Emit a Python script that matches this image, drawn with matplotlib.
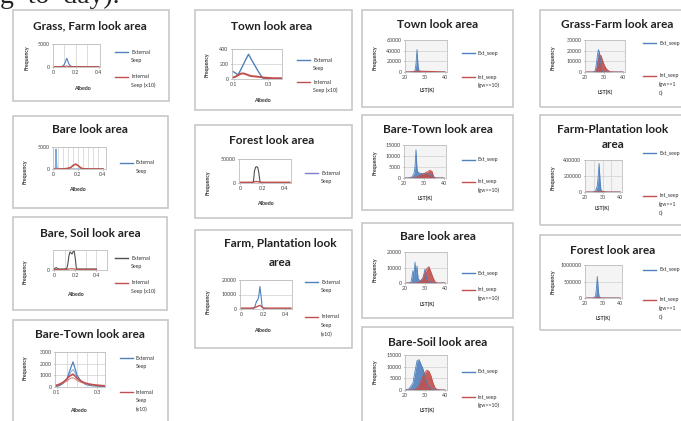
import matplotlib.pyplot as plt
from matplotlib.patches import Rectangle
from matplotlib.lines import Line2D

plt.rcParams['font.family'] = ['Lato', 'DejaVu Sans']

# ---------------- data ----------------
# albedo charts: External Seep / Internal Seep (x10)
gf_x = [0.0, 0.04, 0.08, 0.10, 0.12, 0.14, 0.16, 0.20, 0.30, 0.40]
gf_ext = [0, 0, 100, 600, 1900, 600, 100, 0, 0, 0]
gf_int = [80, 80, 90, 120, 200, 120, 90, 80, 80, 80]

bare_x = [0.0, 0.01, 0.02, 0.024, 0.03, 0.05, 0.10, 0.14, 0.16, 0.18, 0.20, 0.22, 0.24, 0.30, 0.40]
bare_ext = [0, 0, 300, 4500, 300, 0, 0, 0, 0, 0, 0, 0, 0, 0, 0]
bare_int = [0, 0, 0, 0, 0, 0, 50, 300, 800, 1100, 800, 300, 50, 0, 0]

bs_x = [0.0, 0.02, 0.04, 0.08, 0.12, 0.13, 0.14, 0.15, 0.16, 0.17, 0.18, 0.19, 0.20, 0.21, 0.22, 0.26, 0.30, 0.40]
bs_ext = [5, 12, 5, 5, 6, 30, 70, 90, 85, 80, 92, 95, 60, 10, 5, 5, 5, 5]
bs_int = [3, 3, 3, 3, 3, 4, 5, 6, 6, 6, 6, 5, 4, 3, 3, 3, 3, 3]

btw_x = [0.09, 0.11, 0.13, 0.15, 0.16, 0.17, 0.18, 0.19, 0.20, 0.22, 0.24, 0.26, 0.28, 0.30, 0.32, 0.34]
btw_ext = [50, 100, 300, 700, 1200, 1700, 2150, 1600, 1000, 500, 250, 150, 100, 80, 60, 50]
btw_ext2 = [80, 150, 350, 650, 1000, 1300, 1500, 1250, 900, 500, 300, 200, 150, 120, 100, 80]
btw_int = [100, 200, 400, 700, 900, 1000, 1100, 950, 750, 500, 350, 250, 200, 150, 120, 100]
btw_int2 = [150, 250, 350, 500, 650, 750, 800, 700, 550, 400, 300, 220, 180, 150, 130, 120]

town_x = [0.095, 0.11, 0.125, 0.14, 0.155, 0.17, 0.186, 0.20, 0.22, 0.24, 0.26, 0.27, 0.30, 0.33, 0.36, 0.38]
town_ext = [100, 80, 55, 120, 190, 260, 330, 270, 190, 110, 40, 10, 8, 5, 5, 5]
town_int = [20, 30, 50, 70, 75, 65, 50, 40, 35, 30, 25, 20, 15, 10, 10, 10]

fo_x = [0.0, 0.04, 0.08, 0.10, 0.12, 0.13, 0.14, 0.15, 0.16, 0.17, 0.18, 0.20, 0.24, 0.30, 0.40, 0.45]
fo_ext = [0, 0, 0, 200, 2000, 25000, 33000, 34000, 32000, 20000, 2000, 200, 0, 0, 0, 0]
fo_int = [1500, 1500, 1500, 1600, 2000, 2500, 3000, 3000, 2800, 2300, 1800, 1500, 1500, 1500, 1500, 1500]

fp_x = [0.0, 0.04, 0.08, 0.10, 0.12, 0.13, 0.14, 0.15, 0.16, 0.17, 0.18, 0.19, 0.20, 0.22, 0.26, 0.30, 0.40, 0.45]
fp_ext = [0, 0, 0, 100, 800, 3000, 5500, 6000, 9000, 15500, 9000, 2000, 500, 100, 0, 0, 0, 0]
fp_int = [600, 600, 600, 700, 900, 1200, 1500, 1800, 2200, 2500, 2000, 1200, 800, 600, 600, 600, 600, 600]

# LST charts: Ext_seep / Int_seep (gw>=10)
tl_x = [20, 22, 24, 25, 25.5, 26, 26.5, 27, 28, 30, 32, 34, 36, 38, 40]
tl_ext = [0, 0, 200, 2000, 15000, 42000, 12000, 2000, 300, 100, 0, 0, 0, 0, 0]
tl_int = [0, 0, 300, 800, 1200, 1500, 1500, 1400, 1300, 1200, 1000, 800, 500, 200, 0]

btl_x = [20, 22, 24, 25, 25.5, 26, 26.5, 27, 28, 29, 30, 31, 32, 33, 34, 35, 36, 38, 40]
btl_ext = [0, 0, 500, 2000, 5000, 12800, 4000, 2500, 2200, 2000, 2000, 2000, 1800, 1500, 1200, 500, 0, 0, 0]
btl_int = [0, 0, 0, 100, 200, 300, 500, 800, 1200, 1600, 2000, 2500, 3000, 3500, 3000, 0, 0, 0, 0]

bl_x = [20, 22, 23, 24, 24.5, 25, 25.5, 26, 26.5, 27, 28, 29, 29.5, 30, 30.5, 31, 32, 33, 34, 35, 36, 38, 40]
bl_ext = [0, 0, 500, 8000, 4000, 13500, 5000, 11000, 3000, 2000, 1500, 3000, 6000, 9000, 5000, 2000, 800, 300, 100, 0, 0, 0, 0]
bl_int = [0, 0, 0, 0, 0, 0, 0, 100, 200, 500, 1500, 3500, 5000, 6500, 8000, 9500, 10500, 7000, 3500, 800, 0, 0, 0]

bsl_x = [20, 22, 24, 25, 26, 27, 28, 29, 30, 31, 32, 33, 34, 35, 36, 38, 40]
bsl_ext = [0, 500, 3000, 8000, 12500, 13000, 11000, 9000, 6000, 3000, 1500, 800, 300, 0, 0, 0, 0]
bsl_int = [0, 0, 0, 200, 800, 2000, 4000, 6000, 7500, 8500, 8000, 6000, 3000, 1000, 200, 0, 0]

gfl_x = [20, 24, 25, 25.5, 26, 26.5, 27, 27.5, 28, 28.5, 29, 30, 31, 32, 33, 34, 36, 40]
gfl_ext = [0, 0, 300, 2000, 8000, 15000, 21000, 19000, 12000, 5000, 800, 100, 0, 0, 0, 0, 0, 0]
gfl_int = [0, 0, 0, 200, 1500, 5000, 10000, 14000, 16000, 15000, 12000, 7000, 3500, 1500, 500, 100, 0, 0]

fpl_x = [20, 24, 25, 26, 27, 27.5, 28, 28.5, 29, 30, 32, 36, 40]
fpl_ext = [0, 0, 2000, 15000, 80000, 200000, 357000, 150000, 30000, 5000, 0, 0, 0]
fpl_int = [0, 0, 500, 2000, 5000, 8000, 10000, 9000, 7000, 4000, 1500, 0, 0]

frl_x = [20, 24, 25, 26, 26.5, 27, 27.5, 28, 29, 30, 34, 40]
frl_ext = [0, 0, 5000, 60000, 300000, 650000, 250000, 40000, 5000, 0, 0, 0]
frl_int = [0, 0, 1000, 5000, 10000, 15000, 12000, 8000, 3000, 1000, 0, 0]

# ---------------- drawing ----------------
W, H = 681, 421
BLUE = '#4F81BD'
RED = '#C0504D'
DARK = '#505050'
FS = 3.8

fig = plt.figure(figsize=(W / 100, H / 100), dpi=100)


def txt(x, y, s, **kw):
    kw.setdefault('size', FS)
    kw.setdefault('ha', 'center')
    kw.setdefault('va', 'center')
    kw.setdefault('color', '#333333')
    fig.text(x / W, 1 - y / H, s, **kw)


def box(x0, y0, x1, y1):
    fig.add_artist(Rectangle((x0 / W, 1 - y1 / H), (x1 - x0) / W, (y1 - y0) / H,
                             transform=fig.transFigure, fill=False, ec='#c8c8c8', lw=1.2))


def chart(rect, xs, series, xlim, ylim, yticks, xticks, fill=False, vgrid=(), face='white'):
    x0, y0, x1, y1 = rect
    ax = fig.add_axes([x0 / W, 1 - y1 / H, (x1 - x0) / W, (y1 - y0) / H])
    ax.set_facecolor(face)
    for vals, color, lw in series:
        if fill:
            ax.fill_between(xs, vals, color=color, lw=0, alpha=0.9)
        ax.plot(xs, vals, color=color, lw=lw)
    ax.set_xlim(*xlim)
    ax.set_ylim(*ylim)
    ax.set_yticks(yticks)
    ax.set_yticklabels([str(t) for t in yticks])
    ax.set_xticks(xticks)
    ax.set_xticklabels([f'{t:g}' for t in xticks])
    ax.tick_params(labelsize=FS, length=1, width=0.4, pad=1.5, colors='#444444')
    ax.grid(axis='y', color='#d0d0d0', lw=0.5)
    for v in vgrid:
        ax.axvline(v, color='#d0d0d0', lw=0.5, zorder=0)
    ax.set_axisbelow(True)
    for s in ax.spines.values():
        s.set_color('#bfbfbf')
        s.set_linewidth(0.6)
    return ax


def legend(x0, y, color, lines):
    fig.add_artist(Line2D([x0 / W, (x0 + 13) / W], [1 - y / H] * 2, color=color, lw=1.0))
    for i, s in enumerate(lines):
        txt(x0 + 16, y + i * 8.5, s, ha='left')


def title(x, y, s):
    txt(x, y, s, size=8.5, weight='bold', color='#222222')


def axis_labels(ylab_x, ylab_y, xlab_x, xlab_y, xlab):
    txt(ylab_x, ylab_y, 'Frequency', rotation=90, weight='bold')
    txt(xlab_x, xlab_y, xlab, weight='bold')


EXT = ['External', 'Seep']
INT = ['Internal', 'Seep (x10)']
INT3 = ['Internal', 'Seep', '(x10)']
EXTL = ['Ext_seep']
INTL = ['Int_seep', '(gw>=10)']
INTL3 = ['Int_seep', '(gw>=1', '0)']

# bottom of the page line above the figure (cut off in the reference too)
fig.text(0.0, 1 - 3 / H, 'g  to  day).', family=['Liberation Serif'], size=20, color='#222222',
         va='baseline', ha='left')

# ---- column 1 ----
box(13, 10, 169, 101)
title(90, 26, 'Grass, Farm look area')
chart((53, 44, 100, 67), gf_x, [(gf_ext, BLUE, 0.8), (gf_int, RED, 0.8)],
      (0, 0.41), (0, 5000), [0, 5000], [0, 0.2, 0.4], vgrid=[0.1, 0.2, 0.3])
axis_labels(27, 58, 82, 88, 'Albedo')
legend(115, 52, BLUE, EXT)
legend(115, 77, RED, INT)

box(13, 116, 168, 208)
title(90, 130, 'Bare look area')
chart((53, 147, 106, 169), bare_x, [(bare_ext, '#7EA6D8', 0.9), (bare_int, RED, 1.2)],
      (0, 0.424), (0, 5000), [0, 5000], [0, 0.2, 0.4],
      vgrid=[0.04, 0.08, 0.12, 0.16, 0.20, 0.24, 0.28, 0.32, 0.36])
axis_labels(25, 172, 77, 190, 'Albedo')
legend(120, 163, BLUE, EXT)

box(13, 217, 167, 310)
title(90, 233, 'Bare, Soil look area')
chart((53, 250, 107, 270), bs_x, [(bs_ext, DARK, 0.8), (bs_int, RED, 0.8)],
      (-0.01, 0.5), (0, 100), [0], [0, 0.2, 0.4], vgrid=[0.1, 0.3, 0.4])
axis_labels(25, 272, 75, 295, 'Albedo')
legend(115, 258, DARK, EXT)
legend(115, 283, RED, INT)

box(13, 320, 168, 440)
title(90, 335, 'Bare-Town look area')
chart((55, 352, 105, 387), btw_x,
      [(btw_ext2, '#8DB3E2', 0.8), (btw_ext, BLUE, 0.9), (btw_int2, '#D99694', 0.9), (btw_int, RED, 1.2)],
      (0.09, 0.34), (0, 3000), [0, 1000, 2000, 3000], [0.1, 0.3], vgrid=[0.15, 0.2, 0.25, 0.3])
axis_labels(25, 368, 78, 410, 'Albedo')
legend(120, 358, BLUE, EXT)
legend(120, 392, RED, INT3)

# ---- column 2 ----
box(195, 10, 352, 110)
title(272, 27, 'Town look area')
chart((232, 49, 282, 79), town_x, [(town_ext, BLUE, 1.0), (town_int, RED, 1.4)],
      (0.09, 0.38), (0, 400), [0, 200, 400], [0.1, 0.3])
axis_labels(207, 65, 262, 100, 'Albedo')
legend(297, 60, BLUE, EXT)
legend(297, 82, RED, INT)

box(195, 125, 352, 218)
title(272, 140, 'Forest look area')
chart((239, 159, 291, 183), fo_x, [(fo_ext, DARK, 0.8), (fo_int, RED, 1.0)],
      (-0.01, 0.46), (0, 50000), [0, 50000], [0, 0.2, 0.4])
axis_labels(208, 183, 265, 203, 'Albedo')
legend(305, 173, '#7F7FD0', EXT)

box(195, 230, 352, 348)
title(280, 243, 'Farm, Plantation look')
title(280, 262, 'area')
chart((240, 280, 292, 309), fp_x, [(fp_ext, BLUE, 0.8), (fp_int, RED, 1.0)],
      (-0.01, 0.46), (0, 20000), [0, 10000, 20000], [0, 0.2, 0.4])
axis_labels(208, 302, 262, 331, 'Albedo')
legend(305, 282, BLUE, EXT)
legend(305, 317, RED, INT3)

# ---- column 3 ----
box(362, 10, 513, 107)
title(438, 25, 'Town look area')
chart((405, 40, 447, 72), tl_x, [(tl_ext, BLUE, 0.6), (tl_int, RED, 0.8)],
      (20, 41), (0, 60000), [0, 20000, 40000, 60000], [20, 30, 40], fill=True, face='#f4f4f4')
axis_labels(375, 58, 427, 90, 'LST(K)')
legend(462, 53, BLUE, EXTL)
legend(462, 77, RED, INTL)

box(362, 115, 513, 210)
title(438, 130, 'Bare-Town look area')
chart((404, 145, 446, 178), btl_x, [(btl_ext, BLUE, 0.6), (btl_int, RED, 0.6)],
      (20, 41), (0, 15000), [0, 5000, 10000, 15000], [20, 30, 40], fill=True, face='#f4f4f4')
axis_labels(375, 163, 425, 198, 'LST(K)')
legend(462, 160, BLUE, EXTL)
legend(462, 182, RED, INTL)

box(362, 223, 513, 318)
title(438, 237, 'Bare look area')
chart((405, 252, 447, 283), bl_x, [(bl_ext, BLUE, 0.6), (bl_int, RED, 0.6)],
      (20, 41), (0, 20000), [0, 10000, 20000], [20, 30, 40], fill=True, face='#f4f4f4')
axis_labels(375, 270, 427, 304, 'LST(K)')
legend(462, 273, BLUE, EXTL)
legend(462, 290, RED, INTL)

box(362, 327, 513, 440)
title(438, 342, 'Bare-Soil look area')
chart((405, 355, 447, 390), bsl_x, [(bsl_ext, BLUE, 0.6), (bsl_int, RED, 0.6)],
      (20, 41), (0, 15000), [0, 5000, 10000, 15000], [20, 30, 40], fill=True, face='#f4f4f4')
axis_labels(375, 372, 427, 410, 'LST(K)')
legend(462, 372, BLUE, EXTL)
legend(462, 397, RED, INTL)

# ---- column 4 ----
box(540, 10, 700, 107)
title(617, 25, 'Grass-Farm look area')
chart((585, 40, 625, 72), gfl_x, [(gfl_ext, BLUE, 0.6), (gfl_int, RED, 0.6)],
      (20, 41), (0, 30000), [0, 10000, 20000, 30000], [20, 30, 40], fill=True, face='#f4f4f4')
axis_labels(553, 58, 605, 92, 'LST(K)')
legend(643, 43, BLUE, EXTL)
legend(643, 76, RED, INTL3)

box(540, 115, 700, 225)
title(613, 130, 'Farm-Plantation look')
title(613, 145, 'area')
chart((585, 160, 622, 192), fpl_x, [(fpl_ext, BLUE, 0.6), (fpl_int, RED, 0.6)],
      (20, 41), (0, 400000), [0, 200000, 400000], [20, 30, 40], fill=True, face='#f4f4f4',
      vgrid=[25, 30, 35])
axis_labels(553, 178, 602, 208, 'LST(K)')
legend(643, 153, BLUE, EXTL)
legend(643, 196, RED, INTL3)

box(540, 235, 700, 330)
title(613, 250, 'Forest look area')
chart((585, 265, 622, 298), frl_x, [(frl_ext, BLUE, 0.6), (frl_int, RED, 0.6)],
      (20, 41), (0, 1000000), [0, 500000, 1000000], [20, 30, 40], fill=True, face='#f4f4f4')
axis_labels(553, 282, 603, 318, 'LST(K)')
legend(643, 270, BLUE, EXTL)
legend(643, 300, RED, INTL3)

fig.savefig('out.png', dpi=100)
